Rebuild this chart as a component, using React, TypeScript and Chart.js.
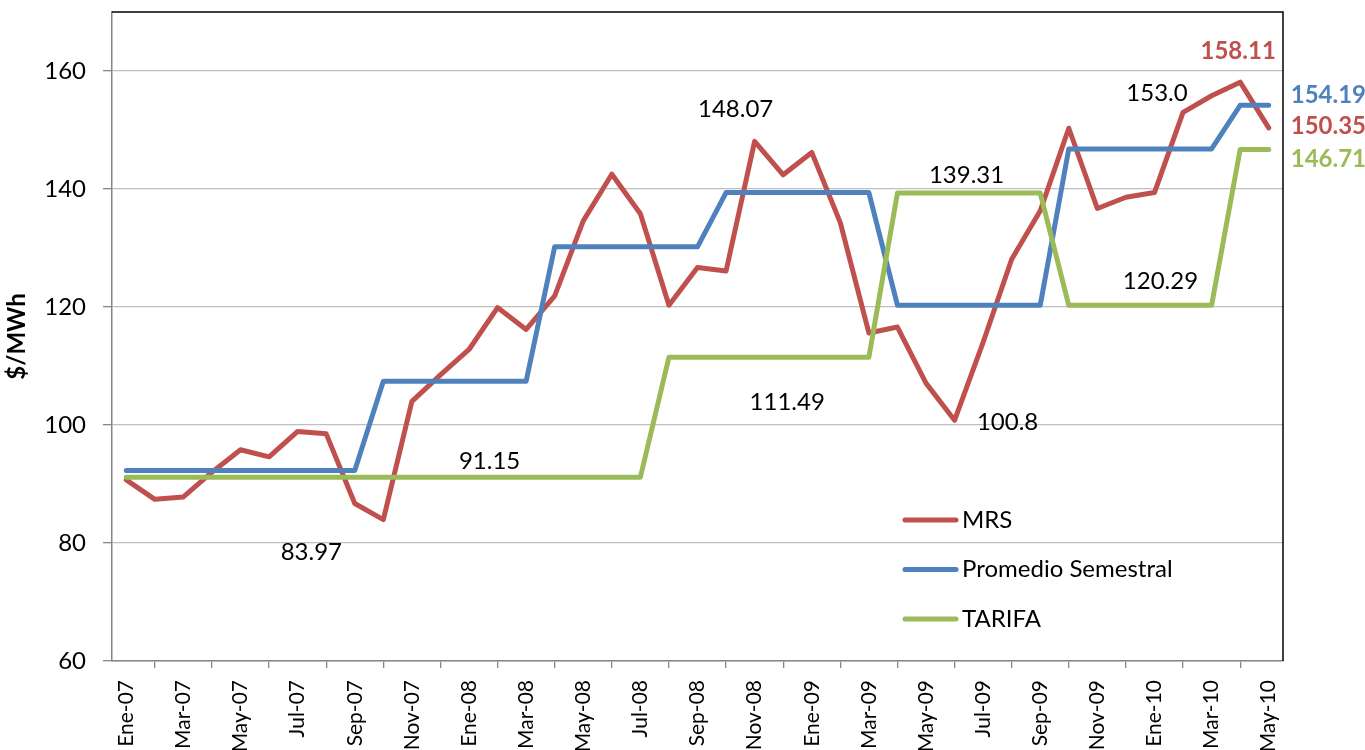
import React, { useEffect, useRef } from "react";
import { Chart, registerables } from "chart.js";

Chart.register(...registerables);

const FONT = "Lato, 'Liberation Sans', sans-serif";
const FS = 24;

const categories = [
  "Ene-07", "Feb-07", "Mar-07", "Abr-07", "May-07", "Jun-07", "Jul-07", "Ago-07", "Sep-07", "Oct-07", "Nov-07", "Dic-07",
  "Ene-08", "Feb-08", "Mar-08", "Abr-08", "May-08", "Jun-08", "Jul-08", "Ago-08", "Sep-08", "Oct-08", "Nov-08", "Dic-08",
  "Ene-09", "Feb-09", "Mar-09", "Abr-09", "May-09", "Jun-09", "Jul-09", "Ago-09", "Sep-09", "Oct-09", "Nov-09", "Dic-09",
  "Ene-10", "Feb-10", "Mar-10", "Abr-10", "May-10",
];

const mrsValues = [
  90.7, 87.4, 87.8, 92.0, 95.8, 94.6, 98.9, 98.5, 86.7, 83.97, 104.0, 108.5,
  112.8, 119.9, 116.2, 121.9, 134.6, 142.5, 135.8, 120.3, 126.7, 126.1, 148.07, 142.4,
  146.2, 134.3, 115.6, 116.6, 107.1, 100.8, 114.0, 128.1, 136.3, 150.3, 136.7, 138.6,
  139.4, 153.0, 155.8, 158.11, 150.35,
];

const promedioValues = [
  92.3, 92.3, 92.3, 92.3, 92.3, 92.3, 92.3, 92.3, 92.3, 107.4, 107.4, 107.4,
  107.4, 107.4, 107.4, 130.2, 130.2, 130.2, 130.2, 130.2, 130.2, 139.4, 139.4, 139.4,
  139.4, 139.4, 139.4, 120.3, 120.3, 120.3, 120.3, 120.3, 120.3, 146.8, 146.8, 146.8,
  146.8, 146.8, 146.8, 154.19, 154.19,
];

const tarifaValues = [
  91.15, 91.15, 91.15, 91.15, 91.15, 91.15, 91.15, 91.15, 91.15, 91.15, 91.15, 91.15,
  91.15, 91.15, 91.15, 91.15, 91.15, 91.15, 91.15, 111.49, 111.49, 111.49, 111.49, 111.49,
  111.49, 111.49, 111.49, 139.31, 139.31, 139.31, 139.31, 139.31, 139.31, 120.29, 120.29, 120.29,
  120.29, 120.29, 120.29, 146.71, 146.71,
];

const yTickLabels = [60, 80, 100, 120, 140, 160];

const seriesNames = ["MRS", "Promedio Semestral", "TARIFA"];
const seriesColors = ["#C0504D", "#4F81BD", "#9BBB59"];

// annotation texts: series index, point index, offset from the point (px)
const labelTexts = ["83.97", "91.15", "148.07", "111.49", "139.31", "100.8", "120.29", "153.0", "158.11", "154.19", "150.35", "146.71"];
const labelSeries = [0, 2, 0, 2, 2, 0, 2, 0, 0, 1, 0, 2];
const labelIndex = [9, 13, 22, 23, 29, 29, 36, 37, 39, 40, 40, 40];
const labelDx = [-72, -8, -19, 4, 12, 53, 6, -26, -2, 22, 22, 22];
const labelDy = [33, -16, -32, 45, -18, 2, -24, -19, -31, -10, -2, 10];
const labelBold = [false, false, false, false, false, false, false, false, true, true, true, true];

export default function App() {
  const ref = useRef<HTMLCanvasElement>(null);

  useEffect(() => {
    document.body.style.margin = "0";
    const canvas = ref.current;
    if (!canvas) return;
    const series = [mrsValues, promedioValues, tarifaValues];

    const extras = {
      id: "extras",
      afterDatasetsDraw(chart: any) {
        const { ctx, chartArea: a, scales } = chart;
        const xs = scales.x;
        const ys = scales.y;
        ctx.save();
        // top & right plot border
        ctx.strokeStyle = "#000";
        ctx.lineWidth = 1.5;
        ctx.beginPath();
        ctx.moveTo(a.left, a.top);
        ctx.lineTo(a.right, a.top);
        ctx.lineTo(a.right, a.bottom);
        ctx.stroke();

        // data labels
        ctx.textBaseline = "middle";
        for (let k = 0; k < labelTexts.length; k++) {
          const s = labelSeries[k];
          const idx = labelIndex[k];
          const px = xs.getPixelForValue(idx) + labelDx[k];
          const py = ys.getPixelForValue(series[s][idx]) + labelDy[k];
          ctx.font = `${labelBold[k] ? "bold " : ""}${FS}px ${FONT}`;
          ctx.fillStyle = labelBold[k] ? seriesColors[s] : "#000";
          ctx.textAlign = labelBold[k] && idx === 40 ? "left" : "center";
          ctx.fillText(labelTexts[k], px, py);
        }

        // legend
        ctx.font = `${FS}px ${FONT}`;
        ctx.textAlign = "left";
        for (let i = 0; i < seriesNames.length; i++) {
          const yy = a.bottom - 141 + i * 49.5;
          ctx.strokeStyle = seriesColors[i];
          ctx.lineWidth = 5;
          ctx.lineCap = "round";
          ctx.beginPath();
          ctx.moveTo(a.right - 378, yy);
          ctx.lineTo(a.right - 327, yy);
          ctx.stroke();
          ctx.fillStyle = "#000";
          ctx.fillText(seriesNames[i], a.right - 321, yy);
        }
        ctx.restore();
      },
    };

    const chart = new Chart(canvas, {
      type: "line",
      data: {
        labels: categories,
        datasets: series.map((vals, i) => ({
          label: seriesNames[i],
          data: vals,
          borderColor: seriesColors[i],
          backgroundColor: seriesColors[i],
          borderWidth: 5,
          pointRadius: 0,
          tension: 0,
          borderCapStyle: "round" as const,
          borderJoinStyle: "round" as const,
          order: 3 - i,
        })),
      },
      options: {
        responsive: false,
        animation: false,
        layout: { padding: { top: 12, right: 82, left: 0, bottom: 0 } },
        plugins: {
          legend: { display: false },
          tooltip: { enabled: false },
        },
        scales: {
          x: {
            offset: true,
            ticks: {
              autoSkip: false,
              maxRotation: 90,
              minRotation: 90,
              padding: 12,
              color: "#000",
              font: { family: FONT, size: 21 },
              callback: (_v: any, i: number) => (i % 2 === 0 ? categories[i] : null),
            },
            grid: {
              offset: true,
              drawOnChartArea: false,
              tickLength: 7,
              tickColor: "#868686",
              lineWidth: 1.3,
            },
            border: { color: "#868686", width: 1.5 },
            afterFit: (s: any) => {
              s.height = 89;
              s.paddingLeft = 0;
              s.paddingRight = 0;
            },
          },
          y: {
            min: 60,
            max: 170,
            ticks: {
              stepSize: 20,
              padding: 17,
              color: "#000",
              font: { family: FONT, size: FS },
              callback: (v: any) => (yTickLabels.includes(Number(v)) ? String(v) : null),
            },
            grid: {
              color: "#BFBFBF",
              lineWidth: 1.3,
              tickLength: 9,
              tickColor: "#868686",
            },
            border: { color: "#868686", width: 1.5 },
            title: {
              display: true,
              text: "$/MWh",
              color: "#000",
              font: { family: FONT, size: FS, weight: "bold" },
              padding: { top: 3, bottom: 0 },
            },
            afterFit: (s: any) => {
              s.width = 112;
              s.paddingTop = 0;
              s.paddingBottom = 0;
            },
          },
        },
      },
      plugins: [extras],
    });

    return () => chart.destroy();
  }, []);

  return <canvas ref={ref} width={1365} height={750} style={{ display: "block" }} />;
}
